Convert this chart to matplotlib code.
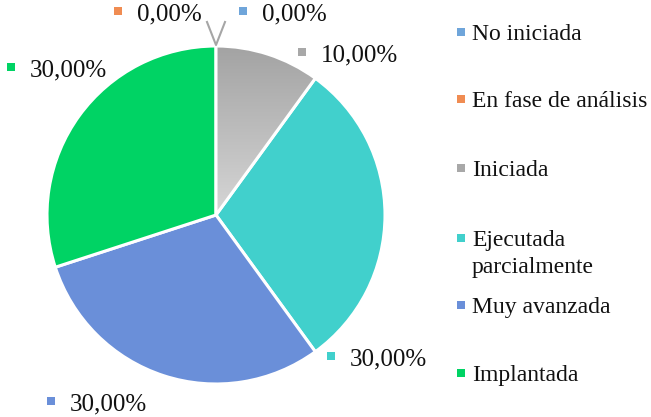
import matplotlib.pyplot as plt
import numpy as np
from matplotlib.colors import LinearSegmentedColormap

plt.rcParams['font.family'] = ['Liberation Serif', 'DejaVu Serif']

categories = ["No iniciada", "En fase de análisis", "Iniciada",
              "Ejecutada\nparcialmente", "Muy avanzada", "Implantada"]
values = [0.0, 0.0, 10.0, 30.0, 30.0, 30.0]
colors = ["#6fa5da", "#f08c52", "#a8a8a8", "#41d0cc", "#6a8fd9", "#00d364"]

W, H = 651, 417
fig = plt.figure(figsize=(W / 100, H / 100), dpi=100)
ax = fig.add_axes([0, 0, 1, 1])

cx, cy, r = 216, H - 215, 169
wedges, _ = ax.pie(values, colors=colors, startangle=90, counterclock=False,
                   center=(cx, cy), radius=r, frame=True,
                   wedgeprops=dict(edgecolor="white", linewidth=2.2))
ax.set_xlim(0, W)
ax.set_ylim(0, H)
ax.set_aspect("equal")
ax.axis("off")

# gradient fill on the grey slice
grey = wedges[2]
grad = np.linspace(0, 1, 256).reshape(-1, 1)
cmap = LinearSegmentedColormap.from_list("g", ["#a3a3a3", "#d6d6d6"])
im = ax.imshow(grad, extent=(cx, cx + r, cy, cy + r), origin="upper",
               cmap=cmap, aspect="auto", zorder=grey.get_zorder())
im.set_clip_path(grey)
grey.set_facecolor("none")
grey.set_zorder(im.get_zorder() + 0.1)

# data labels: marker centre in pixels from top-left
label_pos = [(243, 11), (118, 11), (302, 52), (331, 356), (51, 401), (11, 67)]
for (mx, my), v, c in zip(label_pos, values, colors):
    ax.scatter(mx, H - my, marker="s", s=34, color=c, edgecolors="none", zorder=5)
    ax.text(mx + 19, H - my - 9, f"{v:.2f}".replace(".", ",") + "%",
            fontsize=18, va="baseline", ha="left", color="#111111")

# leader lines for the zero slices
ax.plot([207, 216, 225], [H - 22, H - 45, H - 22], color="#a6a6a6", lw=1.5,
        zorder=4)

# legend
leg_y = [32, 99, 168, 238, 305, 373]
for cat, c, ly in zip(categories, colors, leg_y):
    ax.scatter(461, H - ly, marker="s", s=30, color=c, edgecolors="none", zorder=5)
    for k, line in enumerate(cat.split("\n")):
        ax.text(472, H - ly - 8 - 27 * k, line, fontsize=17, va="baseline",
                ha="left", color="#111111")

fig.savefig("out.png", dpi=100)
